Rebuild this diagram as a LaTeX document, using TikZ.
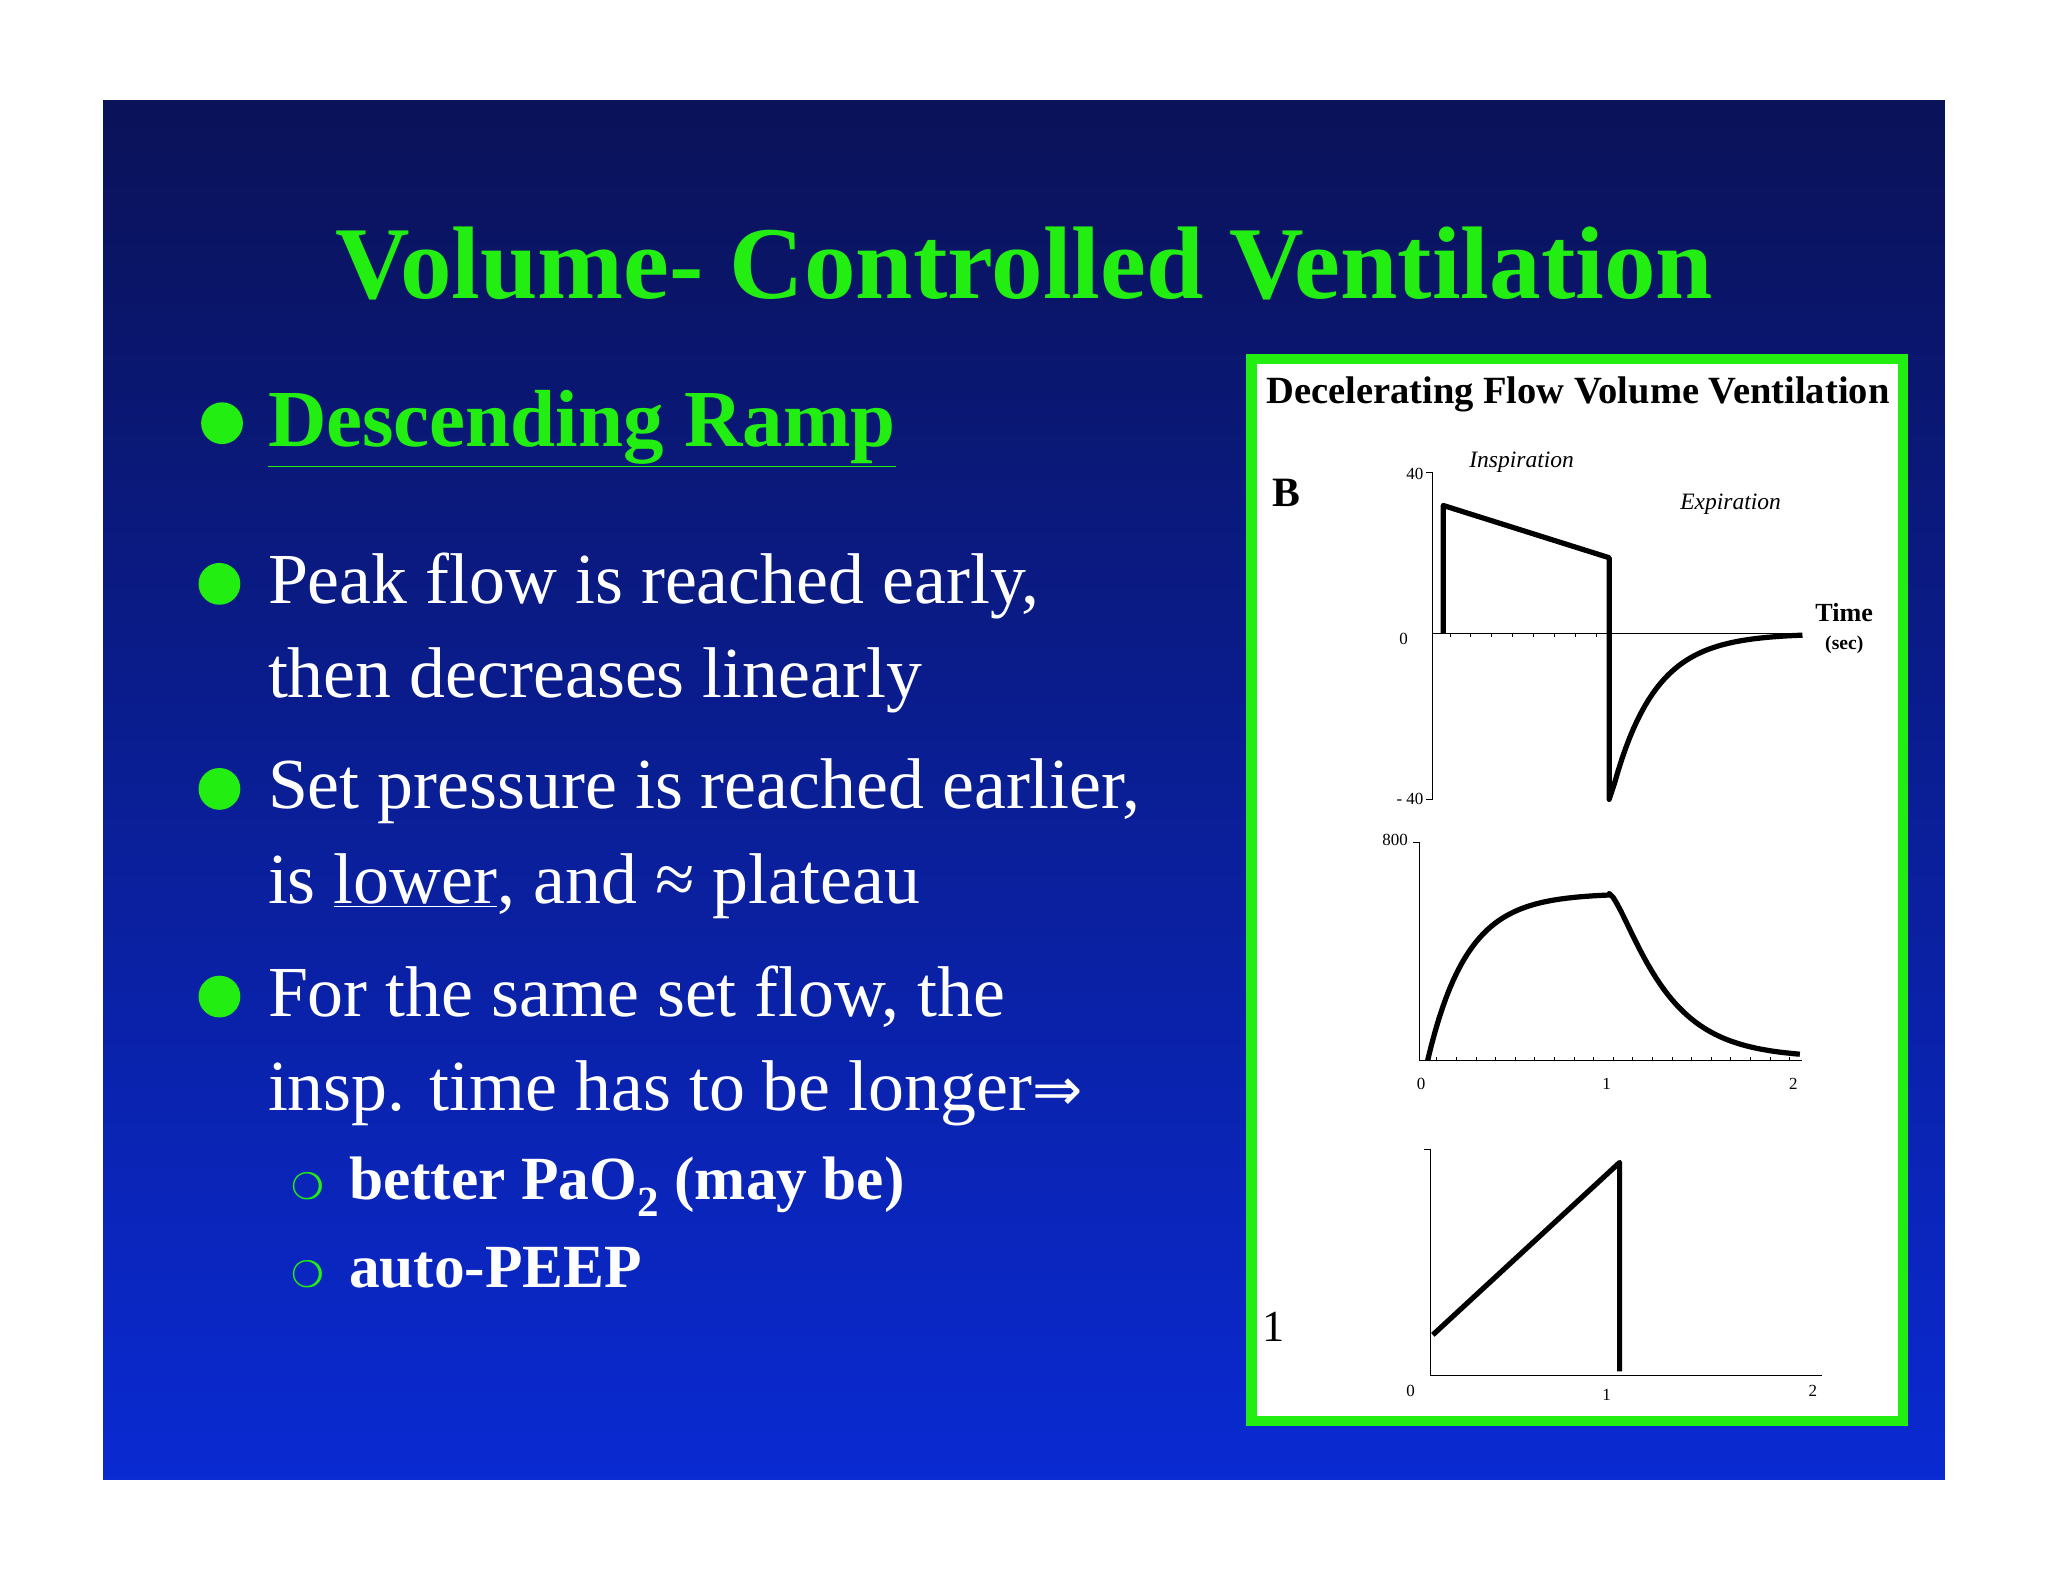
\documentclass[tikz,border=0pt]{standalone}
\usepackage{fontspec}
\setmainfont{Liberation Serif}
\newfontfamily\symfont{DejaVu Sans}
\definecolor{slgreen}{HTML}{22EE11}
\definecolor{navtop}{HTML}{0A1258}
\definecolor{navbot}{HTML}{0A2AD2}
\newcommand{\fsz}[1]{\fontsize{#1}{#1}\selectfont}
\begin{document}
\begin{tikzpicture}[x=1pt,y=-1pt,
  body/.style={anchor=base west,text=white,inner sep=0pt,font=\fsz{55}},
  dot/.style={circle,fill=slgreen,minimum size=32pt,inner sep=0pt},
  sub/.style={anchor=base west,text=white,inner sep=0pt,font=\fsz{47}\bfseries},
  ax/.style={line width=1pt},
  crv/.style={line width=4pt,line join=round},
  tl/.style={inner sep=0pt,font=\fsz{13}}]
\useasboundingbox (0,0) rectangle (1568,1211);
\fill[white] (0,0) rectangle (1568,1211);
\shade[top color=navtop,bottom color=navbot] (79,77) rectangle (1489,1133);
\node[text=slgreen,font=\fsz{79}\bfseries,inner sep=0pt] (title) at (784,202) {Volume- Controlled Ventilation};
% bullets
\node[dot] (d1) at (170,324) {};
\node[body,text=slgreen,font=\fsz{62}\bfseries] (t1) at (205,342) {\underline{Descending Ramp}};
\node[dot] (d2) at (168,447) {};
\node[body] (t2) at (205,462) {Peak flow is reached early,};
\node[body] (t2b) at (205,534) {then decreases linearly};
\node[dot] (d3) at (168,604) {};
\node[body] (t3) at (205,619) {Set pressure is reached earlier,};
\node[body] (t3b) at (205,692) {is \underline{lower}, and ≈ plateau};
\node[dot] (d4) at (168,763) {};
\node[body] (t4) at (205,778) {For the same set flow, the};
\node[body] (t4b) at (205,850) {insp. time has to be longer{\symfont\fsz{46}⇒}};
\node[anchor=base,text=slgreen,font=\symfont\fsz{28},inner sep=0pt] (s1) at (236,918) {❍};
\node[sub] (u1) at (267,918) {better PaO\textsubscript{2} (may be)};
\node[anchor=base,text=slgreen,font=\symfont\fsz{28},inner sep=0pt] (s2) at (236,986) {❍};
\node[sub] (u2) at (267,986) {auto-PEEP};
% panel
\draw[slgreen,line width=8pt,fill=white] (958,275) rectangle (1457,1088);
\node[font=\fsz{29.5}\bfseries,inner sep=0pt] (pt) at (1208,302) {Decelerating Flow Volume Ventilation};
\node[font=\fsz{32}\bfseries,inner sep=0pt] (B) at (985,377) {B};
\node[font=\fsz{34},inner sep=0pt] (one) at (975,1016) {1};
% graph 1
\draw[ax] (1092,362) -- (1097,362) -- (1097,612) -- (1092,612);
\draw[ax] (1097,485) -- (1380,485);
\foreach \x in {1110,1126,...,1230} \draw (\x,485) -- (\x,488);
\node[tl,anchor=east] (l40) at (1090,363) {40};
\node[tl,anchor=east] (l0) at (1078,489) {0};
\node[tl,anchor=east] (lm40) at (1090,612) {- 40};
\node[font=\fsz{18}\itshape,inner sep=0pt] (insp) at (1165,354) {Inspiration};
\node[font=\fsz{18}\itshape,inner sep=0pt] (exp) at (1325,386) {Expiration};
\node[font=\fsz{20}\bfseries,inner sep=0pt] (time) at (1412,469) {Time};
\node[font=\fsz{15}\bfseries,inner sep=0pt] (sec) at (1412,494) {(sec)};
\draw[crv] (1105,485) -- (1105,387) -- (1232,427) -- (1232,612)
  -- plot[domain=1236:1380,samples=50] (\x,{485+115*exp(-(\x-1236)/32)});
% graph 2
\draw[ax] (1082,645) -- (1087,645) -- (1087,812) -- (1380,812);
\foreach \x in {1100,1115,...,1375} \draw (\x,812) -- (\x,809);
\node[tl,anchor=east] (l800) at (1078,643) {800};
\node[tl] (a0) at (1088,830) {0};
\node[tl] (a1) at (1230,830) {1};
\node[tl] (a2) at (1373,830) {2};
\draw[crv] plot[domain=1093:1232,samples=50] (\x,{812-128*(1-exp(-(\x-1093)/30))})
  -- plot[domain=1232:1378,samples=50] (\x,{684+126*(1-exp(-(\x-1232)/35))^1.5});
% graph 3
\draw[ax] (1090,880) -- (1095,880) -- (1095,1053) -- (1395,1053);
\node[tl] (b0) at (1080,1065) {0};
\node[tl] (b1) at (1230,1068) {1};
\node[tl] (b2) at (1388,1065) {2};
\draw[crv] (1097,1022) -- (1240,890) -- (1240,1050);
\end{tikzpicture}
\end{document}
